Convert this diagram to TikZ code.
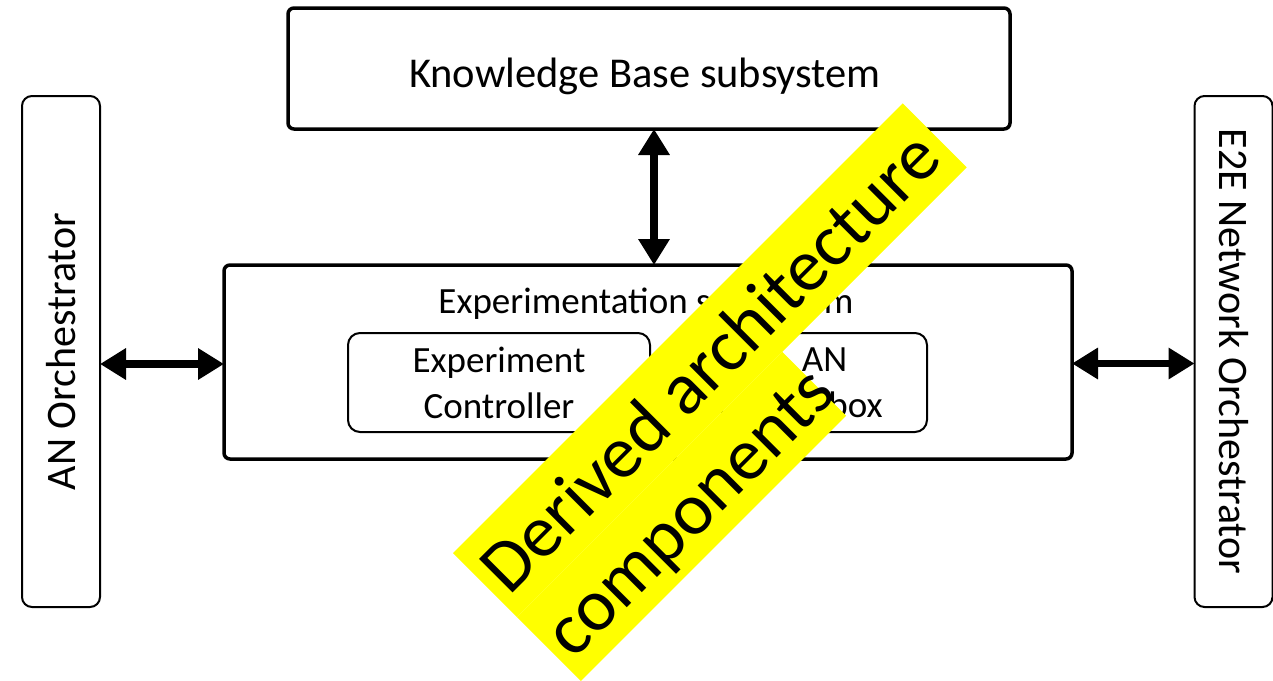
\documentclass[tikz,border=0pt]{standalone}
\usepackage{fontspec}
\setmainfont{Carlito}
\usetikzlibrary{arrows.meta}
\definecolor{marker}{RGB}{255,255,0}
\begin{document}
\begin{tikzpicture}[x=1pt,y=-1pt,
  heavybox/.style={draw=black, line width=3.5pt, rounded corners=6pt,
    outer sep=0pt, inner sep=0pt, align=center},
  lightbox/.style={draw=black, line width=2pt, rounded corners=12pt,
    outer sep=0pt, inner sep=0pt, align=center},
  sidebox/.style={draw=black, line width=2pt, rounded corners=10pt,
    outer sep=0pt, inner sep=0pt, minimum width=78pt, minimum height=511pt},
  biarrow/.style={line width=7.5pt,
    {Triangle[width=30pt,length=26pt]}-{Triangle[width=30pt,length=26pt]}},
  hilite/.style={fill=marker},
  bandtext/.style={anchor=base west, inner sep=0pt, rotate=45,
    font=\fontsize{74}{88}\selectfont},
  labelfont/.style={font=\fontsize{37}{46}\selectfont},
]
\useasboundingbox (0,0) rectangle (1273,680);
\fill[white] (0,0) rectangle (1273,680);

% top subsystem
\node[heavybox, minimum width=722pt, minimum height=121pt] (kb) at (649,68.5) {};
\node[anchor=base, inner sep=0pt, font=\fontsize{42.5}{50}\selectfont] (kbtitle)
  at (645,87) {Knowledge Base subsystem};

% experimentation subsystem and its parts
\node[heavybox, minimum width=848pt, minimum height=194pt] (exp) at (648,362) {};
\node[labelfont, anchor=base, inner sep=0pt] (exptitle) at (646,313) {Experimentation subsystem};
\node[lightbox, labelfont, minimum width=302pt, minimum height=99pt] (ctrl) at (499,382.5)
  {Experiment\\Controller};
\node[lightbox, labelfont, minimum width=205pt, minimum height=99pt] (tool) at (824.5,382.5)
  {AN\\Toolbox};

% orchestrators at both sides
\node[sidebox] (anorch) at (61,351.5) {};
\node[rotate=90, font=\fontsize{42}{50}\selectfont, inner sep=0pt] (anlabel) at (anorch.center) {AN Orchestrator};
\node[sidebox] (e2e) at (1233.5,351.5) {};
\node[rotate=-90, font=\fontsize{42}{50}\selectfont, inner sep=0pt] (e2elabel) at (e2e.center) {E2E Network Orchestrator};

% interfaces
\draw[biarrow] ([xshift=5pt]kb.south) -- ([xshift=5pt]kb.south |- exp.north);
\draw[biarrow] ([yshift=-12.5pt]anorch.east) -- ([yshift=-12.5pt]anorch.east -| exp.west);
\draw[biarrow] ([yshift=-1.5pt]exp.east) -- ([yshift=-1.5pt]exp.east -| e2e.west);

% highlighted diagonal caption
\begin{scope}[shift={(453,553)}, rotate=45]
  \fill[hilite] (0,0) rectangle (636,90.5);
  \fill[hilite] (0,90.5) rectangle (375,181);
  \node[bandtext] (cap1) at (9,71) {Derived architecture};
  \node[bandtext] (cap2) at (9,161.5) {components};
\end{scope}
\end{tikzpicture}
\end{document}
